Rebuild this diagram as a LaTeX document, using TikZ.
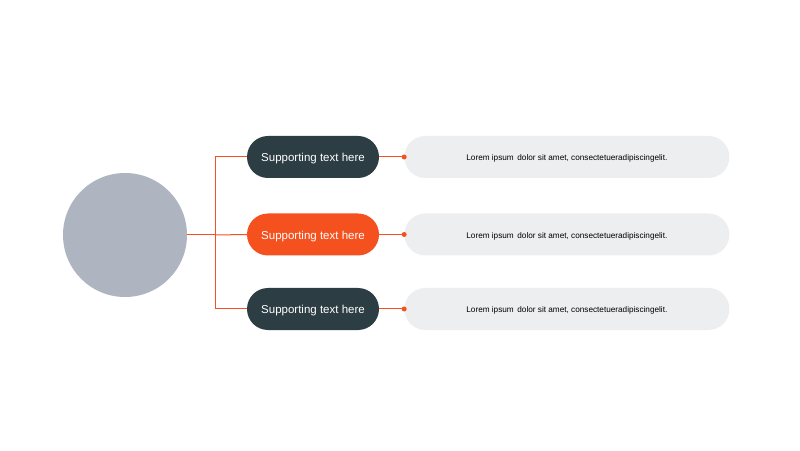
\documentclass[tikz,border=0pt]{standalone}
\usepackage{fontspec}
\setmainfont{Liberation Sans}
\usetikzlibrary{positioning}
\definecolor{mdark}{HTML}{2C3D43}
\definecolor{morange}{HTML}{F4511E}
\definecolor{mlight}{HTML}{EDEEF0}
\definecolor{mhub}{HTML}{AEB5C0}
\tikzstyle{hub} = [circle, minimum size = 124pt, inner sep = 0pt, fill = mhub]
\tikzstyle{support} = [rectangle, rounded corners = 21pt, minimum width = 132pt, minimum height = 42pt, text = white, font = \fontsize{11.5}{13}\selectfont, text height = 10pt, text depth = 0pt, text centered, fill = mdark]
\tikzstyle{detail} = [rectangle, rounded corners = 21pt, minimum width = 325pt, minimum height = 42pt, font = \fontsize{8.2}{9}\selectfont, text height = 8pt, text depth = 0pt, text centered, fill = mlight]
\tikzstyle{link} = [color = morange, line width = 1pt]
\tikzstyle{pin} = [circle, fill = morange, inner sep = 0pt, minimum size = 5pt]
\begin{document}
\begin{tikzpicture}[x=1pt, y=1pt, node distance = 25pt]
  \useasboundingbox (0,0) rectangle (800,450);
  \fill [white] (0,0) rectangle (800,450);
  \node (hub) [hub] at (125,215) {};
  \node (sup2) [support, fill = morange] at (313,215.5) {Supporting text here};
  \node (sup1) [support] at (313,293) {Supporting text here};
  \node (sup3) [support] at (313,141) {Supporting text here};
  \node (det1) [detail, right = of sup1] {Lorem ipsum\, dolor sit amet, consectetueradipiscingelit.};
  \node (det2) [detail, right = of sup2] {Lorem ipsum\, dolor sit amet, consectetueradipiscingelit.};
  \node (det3) [detail, right = of sup3] {Lorem ipsum\, dolor sit amet, consectetueradipiscingelit.};
  \coordinate (split) at (215,215);
  \draw [link] (hub.east) -- (split);
  \draw [link] (split) |- (sup1.west);
  \draw [link] (split) -- (sup2.west);
  \draw [link] (split) |- (sup3.west);
  \draw [link] (sup1.east) -- (det1.west);
  \draw [link] (sup2.east) -- (det2.west);
  \draw [link] (sup3.east) -- (det3.west);
  \node [pin] at (det1.west) {};
  \node [pin] at (det2.west) {};
  \node [pin] at (det3.west) {};
\end{tikzpicture}
\end{document}
